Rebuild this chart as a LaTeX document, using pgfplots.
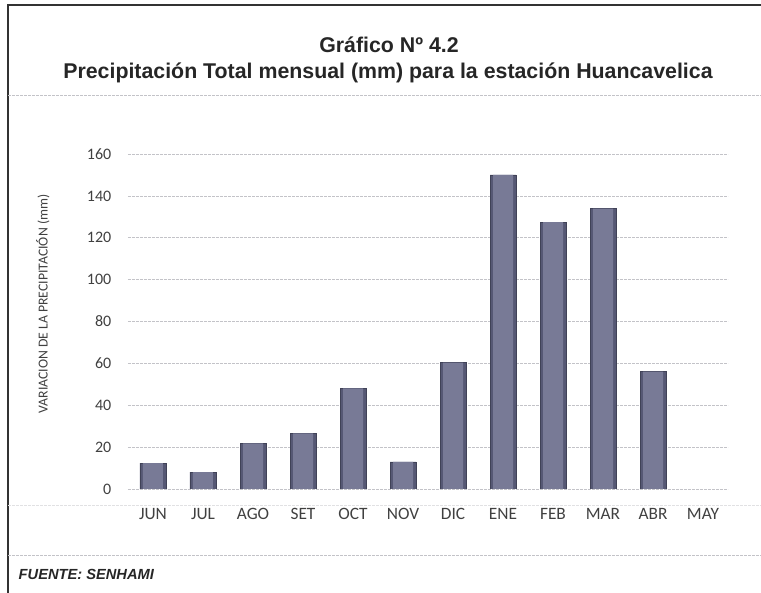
\documentclass[border=0pt]{standalone}
\usepackage{fontspec}
\setmainfont{Liberation Sans}
\newfontfamily\calibri{Carlito}
\usepackage{pgfplots}
\usepackage{pgfplotstable}
\pgfplotsset{compat=1.18}

\definecolor{barmid}{RGB}{120,122,150}
\definecolor{baredge}{RGB}{86,88,116}
\definecolor{gridc}{RGB}{195,195,200}
\definecolor{tickc}{RGB}{64,64,64}
\definecolor{framec}{RGB}{50,50,50}

% precipitation per month (mm), June to April (May has no bar)
\pgfplotstableread{
idx mm
0  12.3
1  8.0
2  21.8
3  26.6
4  48.1
5  12.9
6  60.3
7  150.0
8  127.5
9  133.9
10 56.0
}\precip

\begin{document}
\begin{tikzpicture}[x=0.75pt,y=0.75pt]
  % 761 x 593 px page, y measured from the bottom
  \useasboundingbox (0,0) rectangle (761,593);
  \draw[framec, line width=2.2pt] (8,0) -- (8,588) -- (761,588);
  \draw[gridc, dash pattern=on 2pt off 1pt] (8,498) -- (761,498);
  \draw[gridc!50, dash pattern=on 2pt off 1pt] (8,88) -- (761,88);
  \draw[gridc, dash pattern=on 2pt off 1pt] (8,38) -- (761,38);

  \node[font=\fontsize{16}{18}\selectfont\bfseries, text=black!85] at (389,548) {Gráfico Nº 4.2};
  \node[font=\fontsize{16}{18}\selectfont\bfseries, text=black!85] at (388,520)
    {Precipitación Total mensual (mm) para la estación Huancavelica};
  \node[font=\fontsize{11}{13}\selectfont\bfseries\itshape, anchor=west, text=black!85] at (14,19)
    {FUENTE: SENHAMI};

  \begin{axis}[
      at={(96pt,78pt)}, anchor=south west,
      scale only axis,
      width=450pt, height=251.25pt,
      xmin=-0.5, xmax=11.5,
      ymin=0, ymax=160,
      xtick={0,...,11},
      xticklabels={JUN,JUL,AGO,SET,OCT,NOV,DIC,ENE,FEB,MAR,ABR,MAY},
      ytick={0,20,...,160},
      axis line style={draw=none},
      major tick length=0pt,
      ymajorgrids,
      grid style={gridc, dash pattern=on 2pt off 1pt},
      xticklabel style={font=\calibri\fontsize{13}{15}\selectfont, text=tickc, yshift=-11pt},
      yticklabel style={font=\calibri\fontsize{12}{14}\selectfont, text=tickc, xshift=-9pt},
      ylabel={VARIACION DE LA PRECIPITACIÓN (mm)},
      ylabel style={font=\calibri\fontsize{10.3}{12}\selectfont, text=tickc,
        at={(axis description cs:-0.142,0.552)}, anchor=center},
      /pgf/number format/assume math mode=true,
    ]
    % outer (darker) body of each bar
    \addplot[ybar, bar width=19.5pt, bar shift=0pt, draw=baredge!75!black,
      line width=0.4pt, fill=baredge]
      table[x=idx, y=mm] {\precip};
    % lighter core of each bar
    \addplot[ybar, bar width=15pt, bar shift=0pt, draw=none, fill=barmid]
      table[x=idx, y=mm] {\precip};
  \end{axis}
\end{tikzpicture}
\end{document}
